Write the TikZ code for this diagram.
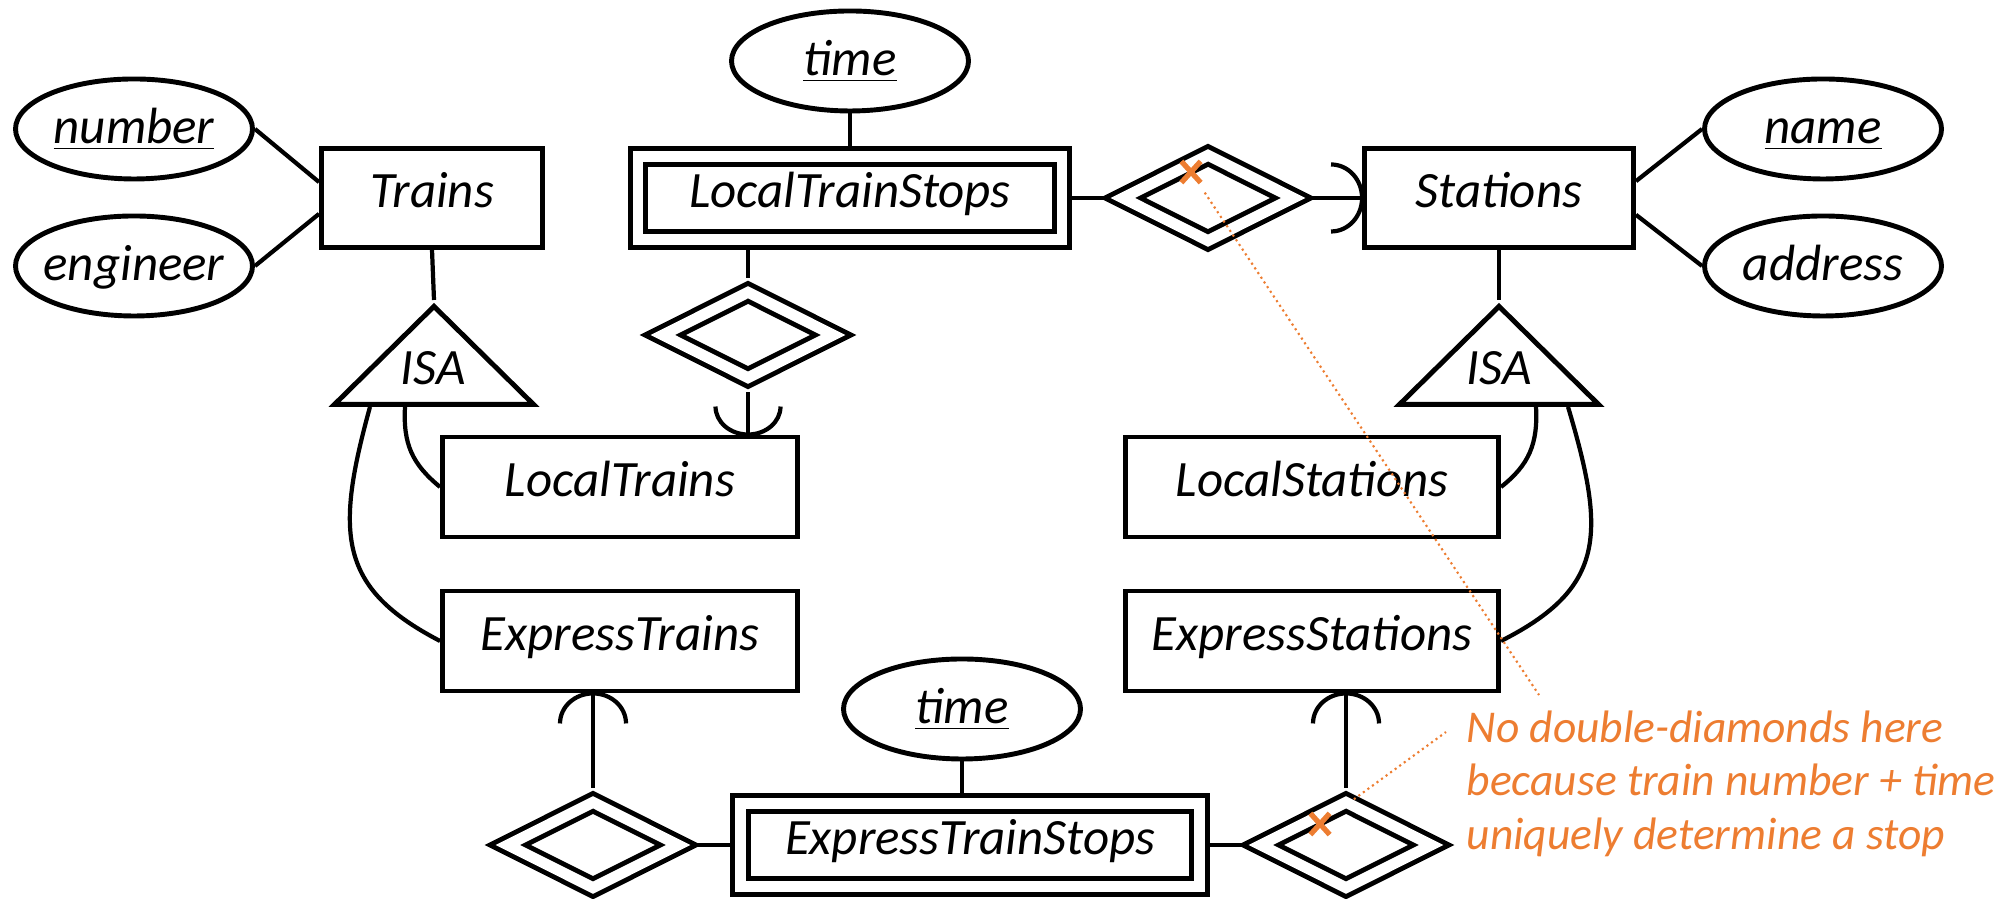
\documentclass[tikz,border=0pt]{standalone}
\usepackage{fontspec}
\setmainfont{Carlito}
\usetikzlibrary{shapes.geometric,shapes.misc,calc}
\definecolor{noteorange}{HTML}{ED7D31}
\begin{document}
\begin{tikzpicture}[x=1.0cm,y=1.0cm,
		lbl/.style={font=\itshape\fontsize{14.5}{17}\selectfont,text height=0.7em,text depth=0.15em,inner sep=0pt},
		entity/.style={lbl,draw,line width=1.4pt,rectangle,minimum height=0.99cm},
		weak/.style={entity,double,double distance=3.1pt,outer sep=2.95pt,minimum height=0.83cm},
		rel/.style={draw,line width=1.4pt,double,double distance=3.1pt,diamond,aspect=1.9,inner sep=0pt,minimum width=1.79cm,minimum height=0.94cm,outer sep=2.95pt},
		attr/.style={lbl,draw,line width=1.4pt,ellipse,text height=14pt,text depth=6pt,inner xsep=-0.1cm,inner ysep=0pt,minimum width=2.37cm,minimum height=1.0cm},
		isa/.style={draw,line width=1.4pt,isosceles triangle,shape border rotate=90,isosceles triangle stretches,inner sep=0pt,minimum width=1.99cm,minimum height=0.98cm},
		link/.style={line width=1.2pt},
		onearc/.style={line width=1.2pt},
		note/.style={font=\itshape\fontsize{12.95}{15.2}\selectfont,text=noteorange,align=left,inner sep=0pt},
		notecross/.style={cross out,draw=noteorange,line width=1.5pt,minimum width=0.14cm,minimum height=0.16cm,inner sep=0pt},
		noteline/.style={draw=noteorange,line width=0.6pt,densely dotted}]
		\useasboundingbox (0,0) rectangle (20.13,8.99);
		% entities and attributes, top row
		\node[attr] (number) at (1.34,7.70) {\underline{number}};
		\node[attr] (engineer) at (1.34,6.33) {engineer};
		\node[entity,minimum width=2.21cm] (trains) at (4.32,7.01) {Trains};
		\node[attr] (time1) at (8.50,8.38) {\underline{time}};
		\node[weak,minimum width=4.24cm] (lts) at (8.50,7.01) {LocalTrainStops};
		\node[rel] (d2) at (12.08,7.01) {};
		\node[entity,minimum width=2.69cm] (stations) at (14.99,7.01) {Stations};
		\node[attr] (name) at (18.23,7.70) {\underline{name}};
		\node[attr] (address) at (18.23,6.33) {address};
		\node[rel] (d1) at (7.48,5.64) {};
		% isa
		\node[isa,anchor=apex] (isaL) at (4.34,5.99) {};
		\node[lbl] (isaLtxt) at (4.33,5.24) {ISA};
		\node[isa,anchor=apex] (isaR) at (14.99,5.99) {};
		\node[lbl] (isaRtxt) at (14.99,5.24) {ISA};
		% subclasses
		\node[entity,minimum width=3.55cm,minimum height=1.0cm] (localtrains) at (6.20,4.12) {LocalTrains};
		\node[entity,minimum width=3.55cm,minimum height=1.0cm] (expresstrains) at (6.20,2.58) {ExpressTrains};
		\node[entity,minimum width=3.73cm,minimum height=1.0cm] (localstations) at (13.12,4.12) {LocalStations};
		\node[entity,minimum width=3.73cm,minimum height=1.0cm] (expressstations) at (13.12,2.58) {ExpressStations};
		% bottom row
		\node[attr] (time2) at (9.62,1.90) {\underline{time}};
		\node[weak,minimum width=4.59cm] (ets) at (9.70,0.54) {ExpressTrainStops};
		\node[rel] (d3) at (5.93,0.54) {};
		\node[rel] (d4) at (13.46,0.54) {};
		% links
		\draw[link] (number.east) -- (trains.172);
		\draw[link] (engineer.east) -- (trains.188);
		\draw[link] (stations.7) -- (name.west);
		\draw[link] (stations.-7) -- (address.west);
		\draw[link] (time1.south) -- (lts.north);
		\draw[link] (lts.east) -- (d2.west);
		\draw[link] (d2.east) -- (stations.west);
		\draw[link] (trains.south) -- (isaL.apex);
		\draw[link] (stations.south) -- (isaR.apex);
		\draw[link] (d1.north) -- (d1.north |- lts.south);
		\draw[link] (d1.south) -- (d1.south |- localtrains.north);
		\draw[link] ($(isaL.south)+(-0.29,0)$) .. controls +(-0.02,-0.37) and +(-0.28,0.23) .. (localtrains.west);
		\draw[link] ($(isaL.south)+(-0.64,0)$) .. controls +(-0.35,-1.27) and +(-1.02,0.53) .. (expresstrains.west);
		\draw[link] ($(isaR.south)+(0.37,0)$) .. controls +(0.02,-0.37) and +(0.28,0.22) .. (localstations.east);
		\draw[link] ($(isaR.south)+(0.69,0)$) .. controls +(0.38,-1.27) and +(1.05,0.53) .. (expressstations.east);
		\draw[link] (d3.north) -- (d3.north |- expresstrains.south);
		\draw[link] (d3.east) -- (ets.west);
		\draw[link] (ets.east) -- (d4.west);
		\draw[link] (d4.north) -- (d4.north |- expressstations.south);
		\draw[link] (time2.south) -- (time2.south |- ets.north);
		% rounded arrows
		\draw[onearc] ($(d1.south |- localtrains.north)+(-0.325,0.28)$) arc[start angle=180,end angle=360,x radius=0.325,y radius=0.28];
		\draw[onearc] ($(stations.west)+(-0.31,0.335)$) arc[start angle=90,end angle=-90,x radius=0.31,y radius=0.335];
		\draw[onearc] ($(d3.north |- expresstrains.south)+(-0.33,-0.30)$) arc[start angle=180,end angle=0,x radius=0.33,y radius=0.30];
		\draw[onearc] ($(d4.north |- expressstations.south)+(-0.33,-0.30)$) arc[start angle=180,end angle=0,x radius=0.33,y radius=0.30];
		% remark
		\node[notecross] (x1) at (11.91,7.27) {};
		\node[notecross] (x2) at (13.20,0.75) {};
		\coordinate (tip1) at (15.39,2.04);
		\coordinate (tip2) at (14.46,1.67);
		\draw[noteline,shorten <=0.12cm] (x1) -- (tip1);
		\draw[noteline,shorten <=0.3cm] (x2) -- (tip2);
		\node[note,anchor=north west] (remark) at (14.66,1.89) {No double-diamonds here\\because train number + time\\uniquely determine a stop};
		\end{tikzpicture}
\end{document}
